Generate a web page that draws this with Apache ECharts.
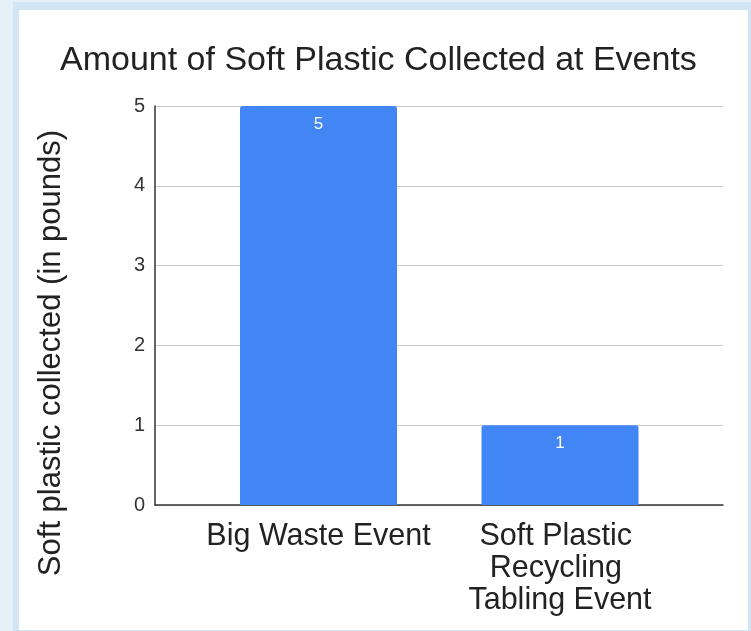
<!DOCTYPE html>
<html>
<head>
<meta charset="utf-8">
<style>
  html, body { margin: 0; padding: 0; background: #e5f1f9; }
  #chart { width: 751px; height: 631px; }
</style>
<script src="https://cdn.jsdelivr.net/npm/echarts@6/dist/echarts.min.js"></script>
</head>
<body>
<div id="chart"></div>
<script>
const titleText = 'Amount of Soft Plastic Collected at Events';
const yAxisTitle = 'Soft plastic collected (in pounds)';
const categories = ['Big Waste Event', 'Soft Plastic Recycling Tabling Event'];
const values = [5, 1];
const yTicks = [0, 1, 2, 3, 4, 5];

const FONT = '"Liberation Sans", Arial, Helvetica, sans-serif';
const chart = echarts.init(document.getElementById('chart'));

chart.setOption({
  backgroundColor: '#e5f1f9',
  animation: false,
  title: {
    text: titleText,
    left: 55,
    top: 39,
    textStyle: { fontFamily: FONT, fontSize: 34, fontWeight: 'normal', color: '#222' }
  },
  graphic: [
    { type: 'rect', z: -20, shape: { x: 13, y: 2, width: 745, height: 640 }, style: { fill: '#d2e5f2' } },
    { type: 'rect', z: -19, shape: { x: 19, y: 10, width: 729, height: 620 }, style: { fill: '#ffffff' } },
    {
      type: 'text', z: 10, x: 51, y: 353, rotation: Math.PI / 2,
      style: { text: yAxisTitle, fontFamily: FONT, fontSize: 31, fill: '#222', align: 'center', verticalAlign: 'middle' }
    }
  ],
  grid: [
    { left: 155, right: 28, top: 106, bottom: 126 },
    { left: 197.75, right: 70.25, top: 106, bottom: 126 }
  ],
  xAxis: [
    {
      gridIndex: 0, type: 'category', data: [''],
      axisLine: { show: true, lineStyle: { color: '#333', width: 1.5 } },
      axisTick: { show: false }, axisLabel: { show: false }, splitLine: { show: false }
    },
    {
      gridIndex: 1, type: 'category', data: categories,
      axisLine: { show: false }, axisTick: { show: false }, splitLine: { show: false },
      axisLabel: {
        fontFamily: FONT, fontSize: 30.5, color: '#222', margin: 16, lineHeight: 32,
        width: 232, overflow: 'break', interval: 0
      }
    }
  ],
  yAxis: [
    {
      gridIndex: 0, type: 'value', min: 0, max: 5, interval: 1,
      axisLine: { show: true, lineStyle: { color: '#333', width: 1.5 } },
      axisTick: { show: false },
      axisLabel: {
        fontFamily: FONT, fontSize: 20, color: '#333', margin: 10,
        formatter: v => (yTicks.indexOf(v) >= 0 ? String(v) : '')
      },
      splitLine: { show: true, lineStyle: { color: '#cccccc', width: 1 } }
    },
    {
      gridIndex: 1, type: 'value', min: 0, max: 5, interval: 1,
      axisLine: { show: false }, axisTick: { show: false }, axisLabel: { show: false },
      splitLine: { show: false }
    }
  ],
  series: [
    {
      type: 'bar', xAxisIndex: 1, yAxisIndex: 1, data: values,
      barWidth: 157,
      itemStyle: { color: '#4285f4', borderRadius: [3, 3, 0, 0] },
      label: {
        show: true, position: 'insideTop', distance: 10,
        fontFamily: FONT, fontSize: 17, color: '#ffffff'
      }
    }
  ]
});
</script>
</body>
</html>
